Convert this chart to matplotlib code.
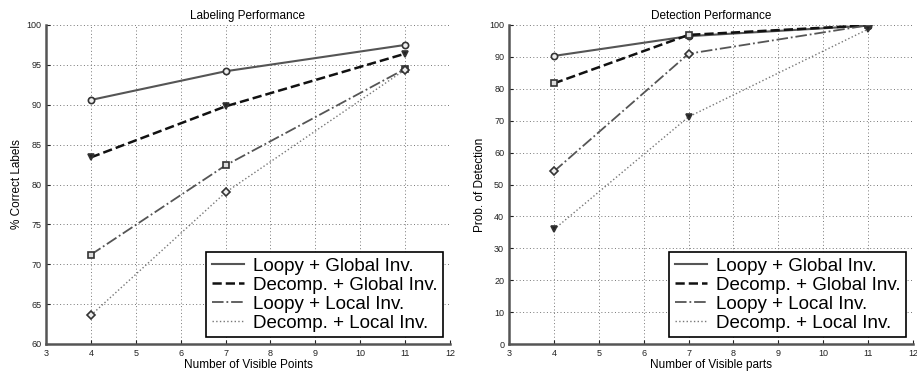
import matplotlib.pyplot as plt

plt.rcParams["font.family"] = ["Liberation Sans", "DejaVu Sans"]

# x positions (number of visible points / parts)
visible = [4, 7, 11]

series_names = [
    "Loopy + Global Inv.",
    "Decomp. + Global Inv.",
    "Loopy + Local Inv.",
    "Decomp. + Local Inv.",
]

# labeling performance (% correct labels)
label_loopy_global = [90.6, 94.2, 97.5]
label_decomp_global = [83.4, 89.8, 96.4]
label_loopy_local = [71.2, 82.4, 94.5]
label_decomp_local = [63.6, 79.0, 94.4]

# detection performance (prob. of detection)
det_loopy_global = [90.3, 96.5, 99.8]
det_decomp_global = [81.7, 96.9, 99.9]
det_loopy_local = [54.1, 91.0, 99.9]
det_decomp_local = [35.9, 71.2, 98.7]

line_styles = ["-", "--", "-.", ":"]
line_colors = ["#555555", "#111111", "#555555", "#777777"]
line_widths = [1.5, 1.8, 1.3, 1.0]

# marker fill per marker shape
marker_faces = {"o": "#eeeeee", "v": "#222222", "s": "#dddddd", "D": "#eeeeee"}


def style_axes(ax, ylim, yticks):
    ax.set_xlim(3, 12)
    ax.set_ylim(*ylim)
    ax.set_xticks(range(3, 13))
    ax.set_yticks(yticks)
    ax.tick_params(labelsize=6.5, length=3, direction="in", colors="#222222")
    ax.grid(True, linestyle=(0, (1, 2.5)), color="#777777", linewidth=0.7)
    for side in ["top", "right"]:
        ax.spines[side].set_visible(False)
    for side in ["left", "bottom"]:
        ax.spines[side].set_linewidth(1.8)
        ax.spines[side].set_color("#555555")


def draw_panel(ax, data, markers, title, xlabel, ylabel):
    for i, ys in enumerate(data):
        ax.plot(visible, ys, linestyle=line_styles[i], color=line_colors[i],
                linewidth=line_widths[i], marker=markers[i], markersize=4.5,
                markerfacecolor=marker_faces[markers[i]], markeredgecolor="#333333",
                markeredgewidth=1.2, label=series_names[i])
    ax.set_title(title, fontsize=8.5, pad=4)
    ax.set_xlabel(xlabel, fontsize=8.5, labelpad=1)
    ax.set_ylabel(ylabel, fontsize=8.5, labelpad=2)
    leg = ax.legend(loc="lower right", fontsize=13.5, fancybox=False,
                    framealpha=1, borderaxespad=0.35, handlelength=1.7,
                    borderpad=0.3, labelspacing=0.1, handletextpad=0.5)
    leg.get_frame().set_edgecolor("black")
    leg.get_frame().set_linewidth(1.2)
    for h in leg.legend_handles:
        h.set_marker("")


fig = plt.figure(figsize=(9.17, 3.76), dpi=100)
ax1 = fig.add_axes([46 / 917, 1 - 344 / 376, 404 / 917, 319 / 376])
ax2 = fig.add_axes([509 / 917, 1 - 344 / 376, 404 / 917, 319 / 376])

draw_panel(ax1,
           [label_loopy_global, label_decomp_global, label_loopy_local, label_decomp_local],
           ["o", "v", "s", "D"],
           "Labeling Performance", "Number of Visible Points", "% Correct Labels")
style_axes(ax1, (60, 100), range(60, 101, 5))

draw_panel(ax2,
           [det_loopy_global, det_decomp_global, det_loopy_local, det_decomp_local],
           ["o", "s", "D", "v"],
           "Detection Performance", "Number of Visible parts", "Prob. of Detection")
style_axes(ax2, (0, 100), range(0, 101, 10))

fig.savefig("out.png", dpi=100)
